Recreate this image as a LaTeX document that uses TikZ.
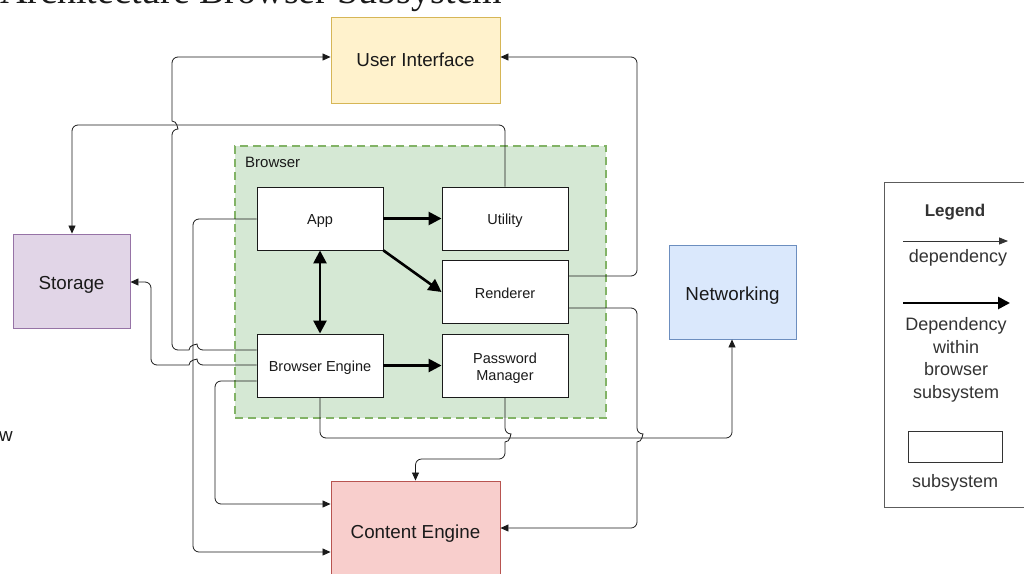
\documentclass[tikz,border=0pt]{standalone}
\usepackage{fontspec}
\setmainfont{Liberation Sans}
\newfontfamily\titlefont{Liberation Serif}
\usetikzlibrary{arrows.meta}

\definecolor{uifill}{HTML}{FFF2CC}\definecolor{uidraw}{HTML}{D6B656}
\definecolor{stfill}{HTML}{E1D5E7}\definecolor{stdraw}{HTML}{9673A6}
\definecolor{nwfill}{HTML}{DAE8FC}\definecolor{nwdraw}{HTML}{6C8EBF}
\definecolor{cefill}{HTML}{F8CECC}\definecolor{cedraw}{HTML}{B85450}
\definecolor{brfill}{HTML}{D5E8D4}\definecolor{brdraw}{HTML}{82B366}
\definecolor{ink}{HTML}{1A1A1A}
\definecolor{legendink}{HTML}{333333}

\begin{document}
\begin{tikzpicture}[x=1pt,y=-1pt,
  boxframe/.style={draw=ink, fill=white, line width=0.9pt, minimum width=126pt,
    minimum height=63pt, inner sep=0pt, align=center, text=ink,
    font=\fontsize{14.5}{17}\selectfont},
  subbox/.style={boxframe, text height=12.8pt, text depth=0pt},
  bigbox/.style={line width=0.9pt, inner sep=0pt, align=center, text=ink,
    font=\fontsize{18.8}{22}\selectfont, text height=16.6pt, text depth=0pt},
  dep/.style={draw=ink, line width=0.8pt, rounded corners=6pt,
    -{Triangle[length=8pt,width=7pt]}},
  strongdep/.style={draw=black, line width=2.6pt,
    -{Triangle[length=13pt,width=13pt]}},
  legendtext/.style={text=legendink, inner sep=0pt, align=center,
    font=\fontsize{18}{22.5}\selectfont},
]
\useasboundingbox (0,0) rectangle (1024,573);
\clip (0,0) rectangle (1024,573);

% heading, mostly outside the frame
\node[anchor=base west, inner sep=0pt, text=ink,
  font=\titlefont\fontsize{38}{40}\selectfont] (heading) at (0,3)
  {Architecture Browser Subsystem};
\node[anchor=base east, inner sep=0pt, text=ink,
  font=\fontsize{18.8}{22}\selectfont] (cutword) at (13,441) {w};

% browser group
\node[draw=brdraw, fill=brfill, line width=1.5pt, dash pattern=on 8pt off 5pt,
  minimum width=371pt, minimum height=272pt, inner sep=0pt] (browser) at (420.5,282) {};
\node[anchor=west, inner sep=0pt, text=ink, font=\fontsize{15}{18}\selectfont]
  (browserlabel) at (245,162.5) {Browser};

% outer subsystems
\node[bigbox, draw=uidraw, fill=uifill, minimum width=169pt, minimum height=86pt,
  text height=12.6pt] (ui) at (415.5,60) {User Interface};
\node[bigbox, draw=stdraw, fill=stfill, minimum width=117pt, minimum height=94pt]
  (storage) at (71.5,281) {Storage};
\node[bigbox, draw=nwdraw, fill=nwfill, minimum width=127pt, minimum height=94pt]
  (net) at (732.5,292) {Networking};
\node[bigbox, draw=cedraw, fill=cefill, minimum width=169pt, minimum height=98pt]
  (ce) at (415.5,530) {Content Engine};

% browser components
\node[subbox] (app)  at (320,218.5) {App};
\node[subbox] (util) at (505,218.5) {Utility};
\node[subbox] (rend) at (505,292)   {Renderer};
\node[boxframe] (pm) at (505,365.5) {};
\node[boxframe, draw=none, fill=none, yshift=-3pt] (pmtext) at (pm.center)
  {Password\\Manager};
\node[subbox] (be)   at (320,365.5) {Browser Engine};

% dependencies leaving the browser subsystem
\draw[dep] (be.west |- 0,350) -- (197,350) [sharp corners]
  .. controls (197,344.5) and (189,344.5) .. (189,350) [rounded corners=6pt]
  -- (172,350) -- (172,129) [sharp corners]
  .. controls (177.5,129) and (177.5,121) .. (172,121) [rounded corners=6pt]
  -- (172,57) -- (ui.west |- 0,57);
\draw[dep] (be.west |- 0,365) -- (197,365) [sharp corners]
  .. controls (197,359.5) and (189,359.5) .. (189,365) [rounded corners=6pt]
  -- (151,365) -- (151,282) -- (storage.east |- 0,282);
\draw[dep] (app.west |- 0,219) -- (193,219) -- (193,552) -- (ce.west |- 0,552);
\draw[dep] (be.west |- 0,381) -- (215,381) -- (215,504) -- (ce.west |- 0,504);
\draw[dep] (util.north) -- (505,125) -- (72,125) -- (storage.north -| 72,0);
\draw[dep] (rend.east |- 0,276) -- (637,276) -- (637,57) -- (ui.east |- 0,57);
\draw[dep] (rend.east |- 0,308) -- (637,308) -- (637,434) [sharp corners]
  .. controls (642.5,434) and (642.5,442) .. (637,442) [rounded corners=6pt]
  -- (637,528) -- (ce.east |- 0,528);
\draw[dep] (be.south) -- (320,438) -- (732,438) -- (net.south -| 732,0);
\draw[dep] (pm.south) -- (505,434) [sharp corners]
  .. controls (510.5,434) and (510.5,442) .. (505,442) [rounded corners=6pt]
  -- (505,459) -- (415.5,459) -- (ce.north);

% dependencies within the browser subsystem
\draw[strongdep] (app.east) -- (util.west);
\draw[strongdep] (app.south east) -- (rend.west);
\draw[strongdep, {Triangle[length=13pt,width=13pt]}-{Triangle[length=13pt,width=13pt]}]
  (app.south) -- (be.north);
\draw[strongdep] (be.east) -- (pm.west);

% legend
\node[draw=legendink!80, line width=1pt, fill=white, minimum width=146pt,
  minimum height=325pt, inner sep=0pt] (legend) at (957,344.5) {};
\node[legendtext, font=\bfseries\fontsize{17}{20}\selectfont] (legendtitle)
  at (955,212.5) {Legend};
\coordinate (thinA) at (903,241);
\coordinate (thinB) at (1008,241);
\draw[draw=legendink, line width=0.8pt, -{Triangle[length=9pt,width=7pt]}] (thinA) -- (thinB);
\node[legendtext] (thinlabel) at (958,258) {dependency};
\coordinate (thickA) at (903,303);
\coordinate (thickB) at (1010,303);
\draw[draw=black, line width=2.6pt, -{Triangle[length=12pt,width=12pt]}] (thickA) -- (thickB);
\node[legendtext] (thicklabel) at (956,360) {Dependency\\within\\browser\\subsystem};
\node[draw=legendink, line width=0.9pt, fill=white, minimum width=94pt,
  minimum height=31pt, inner sep=0pt] (samplebox) at (955,446.5) {};
\node[legendtext] (boxlabel) at (955,483) {subsystem};
\end{tikzpicture}
\end{document}
